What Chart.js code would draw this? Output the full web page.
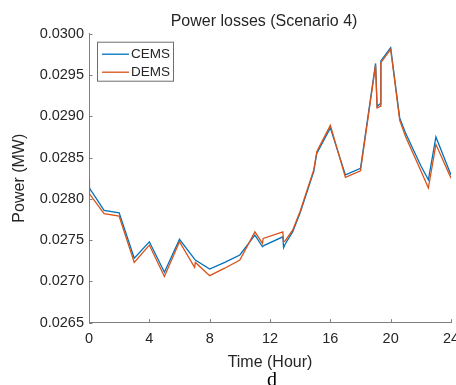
<!DOCTYPE html>
<html>
<head>
<meta charset="utf-8">
<title>Power losses (Scenario 4)</title>
<script src="https://cdn.jsdelivr.net/npm/chart.js@4.4.1/dist/chart.umd.min.js"></script>
<style>
    html, body { margin: 0; padding: 0; background: #fff; overflow: hidden; }
    #wrap { width: 470px; height: 385px; }
</style>
</head>
<body>
<div id="wrap"><canvas id="lossChart" width="470" height="385"></canvas></div>
<script>
// hours, with a few extra points where the curves jump
const timeHours = [0, 0.03, 1, 2, 3, 4, 5, 6, 7, 7.05, 8, 9, 10, 11, 11.5, 11.55, 12.85, 12.9, 13, 13.5,
    14, 14.5, 14.9, 15.1, 16, 17, 18, 19, 19.1, 19.3, 19.35, 20, 20.6, 21, 22, 22.5, 23, 24];
const cemsLoss = [0.02815, 0.02813, 0.02786, 0.02783, 0.02728, 0.02748, 0.02711, 0.02751, 0.02727, 0.02726,
    0.02715, 0.02723, 0.02732, 0.02756, 0.02742, 0.02743, 0.02754, 0.02741, 0.02745, 0.02760,
    0.02783, 0.02811, 0.02833, 0.02855, 0.02886, 0.02829, 0.02837, 0.02964, 0.02912, 0.02915,
    0.02967, 0.02983, 0.02898, 0.02879, 0.02840, 0.02823, 0.02875, 0.02829];
const demsLoss = [0.02823, 0.02806, 0.02782, 0.02779, 0.02723, 0.02744, 0.02706, 0.02748, 0.02717, 0.02723,
    0.02707, 0.02716, 0.02726, 0.02760, 0.02746, 0.02752, 0.02760, 0.02748, 0.02749, 0.02762,
    0.02785, 0.02813, 0.02835, 0.02857, 0.02889, 0.02826, 0.02834, 0.02962, 0.02910, 0.02912,
    0.02965, 0.02981, 0.02895, 0.02875, 0.02834, 0.02813, 0.02866, 0.02825];
const seriesNames = ["CEMS", "DEMS"];
const timeTicks = [0, 4, 8, 12, 16, 20, 24];
const lossTicks = [0.0265, 0.0270, 0.0275, 0.0280, 0.0285, 0.0290, 0.0295, 0.0300];

const FONT = '"Liberation Sans", Arial, sans-serif';
const AXIS_COLOR = "#7f7f7f";
const TEXT_COLOR = "#262626";

// title, inward ticks, boxed legend and the panel letter, MATLAB style
const figureDecor = {
    id: "figureDecor",
    afterDraw(chart) {
        const { ctx, chartArea, scales } = chart;
        ctx.save();

        ctx.strokeStyle = AXIS_COLOR;
        ctx.lineWidth = 1;
        scales.x.ticks.forEach(t => {
            const px = Math.round(scales.x.getPixelForValue(t.value)) + 0.5;
            ctx.beginPath();
            ctx.moveTo(px, chartArea.bottom);
            ctx.lineTo(px, chartArea.bottom - 3.5);
            ctx.stroke();
        });
        scales.y.ticks.forEach(t => {
            const py = Math.round(scales.y.getPixelForValue(t.value)) + 0.5;
            ctx.beginPath();
            ctx.moveTo(chartArea.left, py);
            ctx.lineTo(chartArea.left + 3.5, py);
            ctx.stroke();
        });

        ctx.fillStyle = TEXT_COLOR;
        ctx.font = "16px " + FONT;
        ctx.textAlign = "center";
        ctx.textBaseline = "middle";
        ctx.fillText("Power losses (Scenario 4)", 264, 22);

        // legend box
        const lx = chartArea.left + 8, ly = chartArea.top + 8;
        ctx.fillStyle = "#fff";
        ctx.fillRect(lx, ly, 76, 39);
        ctx.strokeStyle = "#6e6e6e";
        ctx.strokeRect(lx + 0.5, ly + 0.5, 76, 39);
        ctx.font = "13.5px " + FONT;
        ctx.textAlign = "left";
        chart.data.datasets.forEach((ds, i) => {
            const y = ly + 12.5 + i * 18;
            ctx.strokeStyle = ds.borderColor;
            ctx.lineWidth = 1.3;
            ctx.beginPath();
            ctx.moveTo(lx + 5, y);
            ctx.lineTo(lx + 32, y);
            ctx.stroke();
            ctx.fillStyle = TEXT_COLOR;
            ctx.fillText(ds.label, lx + 34, y + 0.5);
        });

        ctx.fillStyle = "#000";
        ctx.font = '20px "Liberation Serif", "Times New Roman", serif';
        ctx.textAlign = "center";
        ctx.textBaseline = "alphabetic";
        ctx.fillText("d", 272, 386);

        ctx.restore();
    }
};

const ctx = document.getElementById("lossChart").getContext("2d");

new Chart(ctx, {
    type: "line",
    data: {
        datasets: [
            {
                label: seriesNames[0],
                data: timeHours.map((t, i) => ({ x: t, y: cemsLoss[i] })),
                borderColor: "#0072BD",
                borderWidth: 1.3,
                pointRadius: 0,
                tension: 0,
                order: 1
            },
            {
                label: seriesNames[1],
                data: timeHours.map((t, i) => ({ x: t, y: demsLoss[i] })),
                borderColor: "#D95319",
                borderWidth: 1.3,
                pointRadius: 0,
                tension: 0,
                order: 0
            }
        ]
    },
    options: {
        responsive: false,
        animation: false,
        layout: { padding: { top: 33.7, left: 0, right: 19, bottom: 13.2 } },
        plugins: {
            legend: { display: false },
            tooltip: { enabled: false }
        },
        scales: {
            x: {
                type: "linear",
                min: 0,
                max: 24,
                afterBuildTicks: scale => { scale.ticks = timeTicks.map(v => ({ value: v })); },
                afterFit: scale => { scale.height = 49.1; },
                grid: { display: false, drawTicks: false, tickLength: 0 },
                border: { display: true, color: AXIS_COLOR, width: 1 },
                ticks: { color: TEXT_COLOR, font: { family: FONT, size: 14.5 }, padding: 8, maxRotation: 0 },
                title: {
                    display: true,
                    text: "Time (Hour)",
                    color: TEXT_COLOR,
                    font: { family: FONT, size: 16 },
                    padding: { top: 0, bottom: 0 }
                }
            },
            y: {
                min: 0.0265,
                max: 0.0300,
                afterBuildTicks: scale => { scale.ticks = lossTicks.map(v => ({ value: v })); },
                afterFit: scale => { scale.width = 89; },
                grid: { display: false, drawTicks: false, tickLength: 0 },
                border: { display: true, color: AXIS_COLOR, width: 1 },
                ticks: {
                    color: TEXT_COLOR,
                    font: { family: FONT, size: 14.5 },
                    padding: 5,
                    callback: v => v.toFixed(4)
                },
                title: {
                    display: true,
                    text: "Power (MW)",
                    color: TEXT_COLOR,
                    font: { family: FONT, size: 16 },
                    padding: { top: 9.5, bottom: 0 }
                }
            }
        }
    },
    plugins: [figureDecor]
});
</script>
</body>
</html>
